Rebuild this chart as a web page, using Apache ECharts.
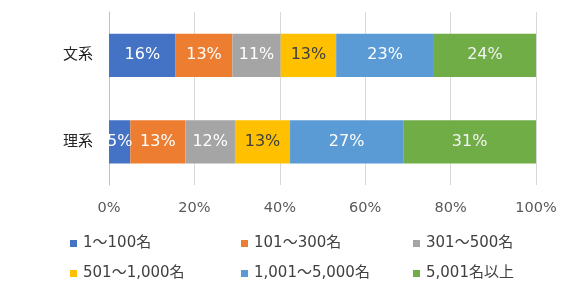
<!DOCTYPE html>
<html><head><meta charset="utf-8">
<script src="https://cdn.jsdelivr.net/npm/echarts@6/dist/echarts.min.js"></script>
<style>html,body{margin:0;padding:0;background:#fff}#c{width:567px;height:289px}</style>
</head><body><div id="c"></div>
<script>
const categories = ['文系', '理系'];
const seriesNames = ['1～100名', '101～300名', '301～500名', '501～1,000名', '1,001～5,000名', '5,001名以上'];
const s1 = [15.6, 5.0];
const s2 = [13.3, 12.9];
const s3 = [11.3, 11.6];
const s4 = [13.0, 12.9];
const s5 = [22.9, 26.5];
const s6 = [23.9, 31.1];
const xTicks = [0, 20, 40, 60, 80, 100];

const values = [s1, s2, s3, s4, s5, s6];
const colors = ['#4472C4', '#ED7D31', '#A5A5A5', '#FFC000', '#5B9BD5', '#70AD47'];
const labelColors = ['#fff', '#fff', '#fff', '#404040', '#fff', '#f2f2f2'];
const FONT = '"DejaVu Sans", "Noto Sans CJK JP", sans-serif';

const chart = echarts.init(document.getElementById('c'), null, {renderer: 'canvas'});
const legendPos = [[70, 236], [241, 236], [413, 236], [70, 266], [241, 266], [413, 266]];
const option = {
  animation: false,
  grid: {left: 109, top: 12, right: 31, bottom: 104},
  legend: seriesNames.map((n, i) => ({
    data: [n], left: legendPos[i][0], top: legendPos[i][1],
    itemWidth: 7, itemHeight: 7, itemGap: 0, icon: 'rect', padding: 0,
    textStyle: {fontFamily: FONT, fontSize: 15, color: '#404040', padding: [0, 0, 0, 1]}
  })),
  xAxis: {
    type: 'value', min: xTicks[0], max: xTicks[xTicks.length - 1], interval: 20,
    axisLine: {show: false}, axisTick: {show: false},
    splitLine: {lineStyle: {color: '#D9D9D9', width: 1}},
    axisLabel: {formatter: '{value}%', fontFamily: FONT, fontSize: 14.5, color: '#595959', margin: 16}
  },
  yAxis: {
    type: 'category', data: categories, inverse: true,
    axisLine: {lineStyle: {color: '#BFBFBF', width: 1}},
    axisTick: {inside: true, length: 6, lineStyle: {color: '#BFBFBF'}},
    axisLabel: {fontFamily: FONT, fontSize: 15, color: '#262626', margin: 16}
  },
  series: values.map((v, i) => ({
    name: seriesNames[i], type: 'bar', stack: 'total', data: v,
    barWidth: '50%',
    itemStyle: {color: colors[i]},
    label: {show: true, position: 'inside', fontFamily: FONT, fontSize: 16, color: labelColors[i],
      formatter: p => Math.round(p.value) + '%'}
  }))
};
chart.setOption(option);
</script></body></html>
